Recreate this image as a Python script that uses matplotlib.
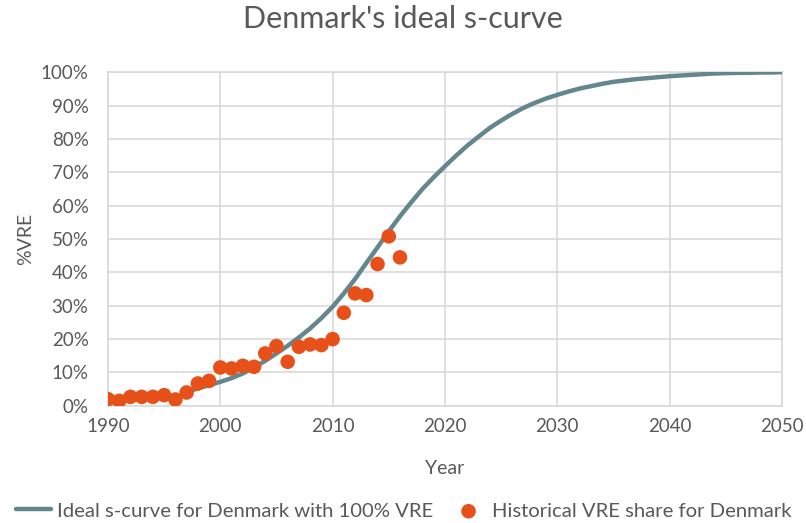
import matplotlib.pyplot as plt
import numpy as np

# historical VRE share for Denmark (% of electricity)
hist_years = list(range(1990, 2017))
hist_share = [2.0, 1.5, 2.7, 2.7, 2.7, 3.2, 1.9, 4.0, 6.7, 7.5,
              11.5, 11.2, 12.0, 11.7, 15.7, 17.9, 13.2, 17.7, 18.4, 18.2,
              20.0, 27.9, 33.7, 33.2, 42.5, 50.8, 44.5]

# ideal s-curve (yearly)
curve_years = list(range(1997, 2051))
curve_share = [4.2, 5.2, 6.2, 7.2, 8.3, 9.7, 11.5, 13.5, 15.7, 18.0,
               20.5, 23.2, 26.3, 29.7, 33.7, 38.0, 42.8, 47.5, 52.3, 56.8,
               61.0, 65.0, 68.5, 71.8, 75.0, 78.0, 80.7, 83.3, 85.5, 87.5,
               89.3, 90.8, 92.1, 93.2, 94.2, 95.1, 95.8, 96.5, 97.1, 97.5,
               97.9, 98.2, 98.5, 98.8, 99.0, 99.2, 99.4, 99.6, 99.7, 99.8,
               99.8, 99.9, 99.9, 100.0]

x_ticks = [1990, 2000, 2010, 2020, 2030, 2040, 2050]
y_ticks = list(range(0, 101, 10))

plt.rcParams["font.family"] = ["Lato", "DejaVu Sans"]
text_color = "#595959"
grid_color = "#d9d9d9"

fig = plt.figure(figsize=(8.06, 5.23), dpi=100)
ax = fig.add_axes([0.134, 0.224, 0.836, 0.638])

ax.plot(curve_years, curve_share, color="#64868f", lw=3.2, solid_capstyle="round",
        label="Ideal s-curve for Denmark with 100% VRE", zorder=3)
ax.scatter(hist_years, hist_share, s=110, color="#e8501a", edgecolors="none",
           label="Historical VRE share for Denmark", zorder=4)

ax.set_xlim(1990, 2050)
ax.set_ylim(0, 100)
ax.set_xticks(x_ticks)
ax.set_yticks(y_ticks)
ax.set_yticklabels([f"{v}%" for v in y_ticks])
ax.grid(True, color=grid_color, lw=1.2)
ax.set_axisbelow(True)
for s in ax.spines.values():
    s.set_color(grid_color)
    s.set_linewidth(1.2)
ax.tick_params(axis="both", length=0, labelsize=13.5, colors=text_color)
ax.tick_params(axis="x", pad=9)
ax.tick_params(axis="y", pad=14)

ax.set_xlabel("Year", fontsize=14, color=text_color, labelpad=18)
ax.set_ylabel("%VRE", fontsize=14, color=text_color, labelpad=5)
fig.suptitle("Denmark's ideal s-curve", fontsize=22, color=text_color, y=0.99)

ax.legend(loc="center", bbox_to_anchor=(0.439, -0.315), ncol=2, frameon=False,
          fontsize=14.6, labelcolor=text_color, handlelength=1.7, columnspacing=0.9,
          handletextpad=0.3)

fig.savefig("out.png", dpi=100)
